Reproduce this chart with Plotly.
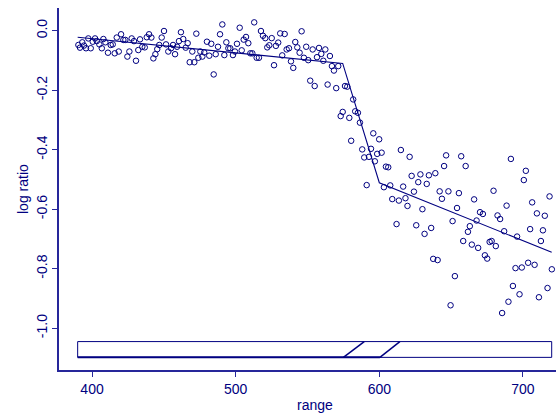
import plotly.graph_objects as go

# LIDAR scan: range (m) against log ratio of received light
rng = [
    390.5, 391.6, 393.2, 394.4, 395.8, 397.4, 399.1, 400.5, 402.1, 403.3,
    405.1, 406.8, 407.9, 409.3, 411.1, 413.0, 414.4, 415.8, 417.2, 418.6,
    420.2, 421.8, 423.2, 424.6, 426.0, 427.6, 429.2, 430.6, 432.2, 433.4,
    435.0, 436.7, 438.1, 439.7, 441.3, 442.7, 444.1, 445.4, 446.8, 448.5,
    450.1, 451.5, 453.1,
    455.0, 456.4, 457.8, 459.2, 460.5, 461.9, 463.5, 465.2, 466.6, 468.0,
    469.8, 471.2, 472.6, 474.0, 475.4, 476.8, 478.1, 480.0, 481.6, 483.0,
    484.7, 486.1, 487.7, 489.1, 490.7, 492.1, 493.5, 494.9, 496.2, 498.1,
    499.5, 500.9, 502.8, 504.2, 505.6, 507.2, 508.8, 510.2, 511.6, 512.9,
    514.6, 516.2, 517.6, 519.0,
    520.6, 522.0, 523.4, 525.1, 526.7, 528.0, 529.6, 531.0, 532.4, 534.1,
    535.5, 537.1, 538.5, 540.1, 541.5, 542.9, 544.5, 545.9, 547.5, 549.1,
    550.5, 551.9, 553.6, 555.0, 556.6, 558.0, 559.6, 561.0, 562.4, 564.0,
    565.6, 567.0, 568.4, 570.0, 571.4,
    573.1, 574.5, 576.1, 577.7, 579.1, 580.4, 581.8, 583.2, 585.1, 586.5,
    588.1, 589.5, 591.2, 592.8, 594.2, 595.8, 596.9, 598.5, 599.9, 601.6,
    603.2, 604.6, 606.2, 607.6, 609.0, 612.0, 613.6, 615.0, 616.6, 618.2,
    619.6, 621.1, 622.5, 624.1, 625.7, 627.1, 628.6, 630.0, 631.5, 633.0,
    634.5, 636.1, 637.5, 639.0, 640.6, 642.0, 643.6, 645.1, 646.5, 648.1,
    649.6, 651.0, 652.6, 654.1, 655.4, 657.0, 658.4, 660.1, 661.7, 663.0,
    664.4, 666.0, 667.7, 668.8, 670.1, 672.1, 673.5, 675.1, 676.8, 678.2,
    679.5, 681.1, 682.3, 684.1, 685.5, 686.9, 688.6, 689.9, 691.6, 693.0,
    694.8, 695.9, 697.6, 699.2, 700.6, 702.0, 703.6, 705.0, 706.4, 708.1,
    709.7, 711.1, 712.5, 713.9, 715.2, 717.1, 718.5, 720.1,
]

logratio = [
    -0.048, -0.057, -0.039, -0.050, -0.059, -0.026, -0.059, -0.037, -0.026, -0.035,
    -0.046, -0.059, -0.028, -0.039, -0.074, -0.048, -0.046, -0.076, -0.023, -0.070,
    -0.012, -0.031, -0.031, -0.087, -0.070, -0.026, -0.035, -0.101, -0.065, -0.029,
    -0.054, -0.056, -0.022, -0.012, -0.023, -0.093, -0.079, -0.062, -0.048, -0.023,
    -0.001, -0.046, -0.070,
    -0.059, -0.048, -0.079, -0.054, -0.035, -0.005, -0.028, -0.057, -0.042, -0.106,
    -0.070, -0.106, -0.010, -0.091, -0.070, -0.087, -0.073, -0.037, -0.084, -0.044,
    -0.147, -0.079, -0.054, -0.012, 0.021, -0.082, -0.039, -0.059, -0.059, -0.082,
    -0.070, -0.044, 0.010, -0.066, -0.030, -0.021, -0.042, -0.076, -0.076, 0.028,
    -0.091, -0.091, -0.001, -0.017,
    -0.025, -0.056, -0.049, -0.025, -0.116, -0.051, -0.040, -0.009, -0.083, -0.011,
    -0.063, -0.059, -0.103, -0.125, -0.038, -0.056, -0.074, -0.002, -0.091, -0.054,
    -0.099, -0.168, -0.063, -0.186, -0.089, -0.058, -0.078, -0.101, -0.063, -0.181,
    -0.085, -0.119, -0.134, -0.193, -0.119,
    -0.287, -0.273, -0.186, -0.188, -0.293, -0.370, -0.231, -0.271, -0.276, -0.309,
    -0.399, -0.426, -0.519, -0.424, -0.397, -0.345, -0.439, -0.414, -0.365, -0.410,
    -0.526, -0.457, -0.459, -0.520, -0.566, -0.650, -0.571, -0.401, -0.524, -0.563,
    -0.589, -0.424, -0.488, -0.541, -0.654, -0.509, -0.483, -0.600, -0.683, -0.515,
    -0.486, -0.663, -0.767, -0.479, -0.771, -0.540, -0.565, -0.455, -0.419, -0.540,
    -0.923, -0.640, -0.825, -0.596, -0.546, -0.422, -0.707, -0.455, -0.676, -0.657,
    -0.719, -0.567, -0.638, -0.730, -0.610, -0.616, -0.755, -0.766, -0.710, -0.707,
    -0.538, -0.724, -0.621, -0.633, -0.949, -0.674, -0.588, -0.911, -0.431, -0.858,
    -0.798, -0.692, -0.886, -0.796, -0.502, -0.471, -0.780, -0.667, -0.577, -0.787,
    -0.614, -0.896, -0.707, -0.671, -0.622, -0.865, -0.557, -0.802,
]

# Piecewise-linear fit (knots at the two change points)
fit_x = [390.0, 574.5, 600.0, 720.0]
fit_y = [-0.022, -0.110, -0.511, -0.745]

# Change-point band drawn under the data
band_x = [390.0, 720.0]
band_y = [-1.098, -1.045]
cp_lower = [575.0, 600.4]   # slash feet (bottom edge)
cp_upper = [589.5, 614.3]   # slash heads (top edge)

x_ticks = [400, 500, 600, 700]
y_ticks = [0.0, -0.2, -0.4, -0.6, -0.8, -1.0]
y_tick_text = ["0.0", "-0.2", "-0.4", "-0.6", "-0.8", "-1.0"]

NAVY = "#000080"
AXIS = "#26269a"
FONT = "Liberation Sans, Arial, sans-serif"

fig = go.Figure()

fig.add_trace(go.Scatter(
    x=rng, y=logratio, mode="markers",
    marker=dict(symbol="circle-open", size=5.5, color=NAVY, line=dict(width=1, color=NAVY)),
    hoverinfo="skip", showlegend=False,
))
fig.add_trace(go.Scatter(
    x=fit_x, y=fit_y, mode="lines",
    line=dict(color=NAVY, width=1.1), hoverinfo="skip", showlegend=False,
))

shapes = [
    dict(type="rect", xref="x", yref="y", x0=band_x[0], x1=band_x[1], y0=band_y[0], y1=band_y[1],
         line=dict(color=NAVY, width=1)),
    dict(type="line", xref="x", yref="y", x0=band_x[0], x1=cp_lower[1], y0=band_y[0], y1=band_y[0],
         line=dict(color=NAVY, width=2)),
]
for lo, hi in zip(cp_lower, cp_upper):
    shapes.append(dict(type="line", xref="x", yref="y", x0=lo, x1=hi, y0=band_y[0], y1=band_y[1],
                       line=dict(color=NAVY, width=1.5)))

fig.update_layout(
    width=556, height=414,
    margin=dict(l=59, r=0, t=8, b=44),
    paper_bgcolor="white", plot_bgcolor="white",
    font=dict(family=FONT, size=14, color=NAVY),
    shapes=shapes,
    xaxis=dict(
        range=[377.0, 723.0], showgrid=False, zeroline=False,
        showline=True, linecolor=AXIS, linewidth=1.5,
        ticks="outside", ticklen=5, tickcolor=AXIS, tickwidth=1,
        tickvals=x_ticks, tickfont=dict(size=14, color=NAVY, family=FONT),
    ),
    yaxis=dict(
        range=[-1.1405, 0.0763], showgrid=False, zeroline=False,
        showline=True, linecolor=AXIS, linewidth=1.5,
        ticks="outside", ticklen=5, tickcolor=AXIS, tickwidth=1,
        tickvals=y_ticks, ticktext=y_tick_text, tickangle=-90,
        tickfont=dict(size=14, color=NAVY, family=FONT),
    ),
    annotations=[
        dict(text="range", xref="paper", yref="paper", x=(315 - 59) / 497, y=-35 / 362,
             xanchor="center", yanchor="middle", showarrow=False,
             font=dict(size=14, color=NAVY, family=FONT)),
        dict(text="log ratio", xref="paper", yref="paper", x=-(59 - 23) / 497, y=0.5,
             xanchor="center", yanchor="middle", textangle=-90, showarrow=False,
             font=dict(size=14, color=NAVY, family=FONT)),
    ],
)

fig.write_html("out.html")
